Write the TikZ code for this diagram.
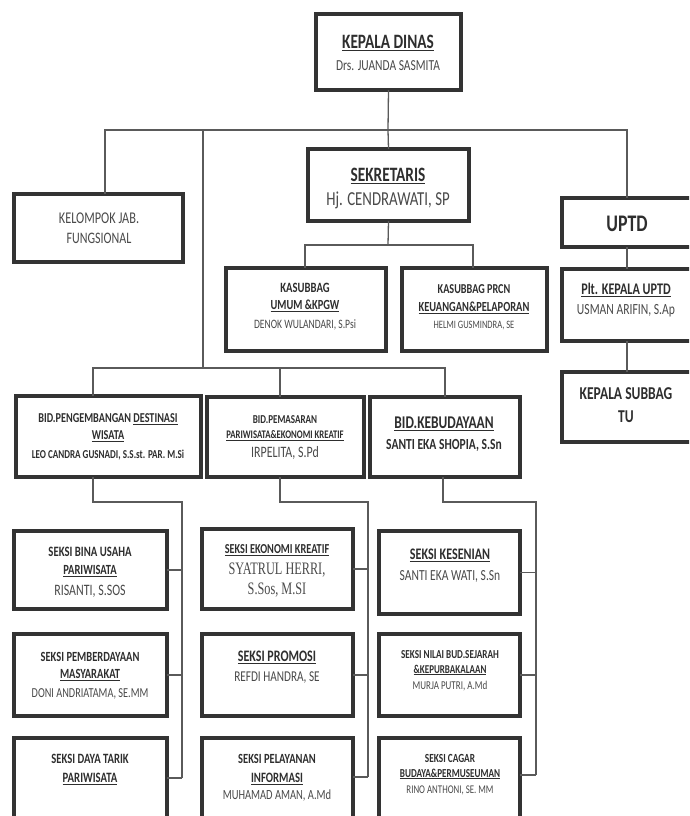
\documentclass[tikz,border=0pt]{standalone}
\usepackage{fontspec}
\setmainfont{Carlito}[FakeStretch=0.75]
\newfontfamily\serifcond{Liberation Serif}[FakeStretch=0.70]
\definecolor{tdark}{HTML}{2E2E2E}
\definecolor{treg}{HTML}{4A4A4A}
\definecolor{boxc}{HTML}{333333}
\definecolor{linec}{HTML}{5A5A5A}
\newcommand\bx[5]{\node[box, minimum width={(#4-#2)*1pt}, minimum height={(#5-#3)*1pt}] (#1) at ({(#2+#4)/2},{(#3+#5)/2}) {};}
\begin{document}
\begin{tikzpicture}[x=1pt,y=-1pt,
  box/.style={draw=boxc, line width=4pt, fill=white, inner sep=0pt, outer sep=0pt},
  ln/.style={draw=linec, line width=1.3pt},
  tb/.style={inner sep=0pt, text=tdark, font=\bfseries\fontsize{#1}{#1}\selectfont},
  tr/.style={inner sep=0pt, text=treg, font=\fontsize{#1}{#1}\selectfont},
  ts/.style={inner sep=0pt, text=treg, font=\serifcond\fontsize{#1}{#1}\selectfont}]
\useasboundingbox (0,0) rectangle (689,816);
\fill[white] (0,0) rectangle (689,816);
\begin{scope}
\clip (0,0) rectangle (689,816);
% boxes
\bx{kd}{316}{14}{461}{90}
\bx{sek}{308}{149}{469}{221}
\bx{kel}{14}{194}{183}{262}
\bx{uptd}{562}{198}{692}{247}
\bx{ksu}{226}{268}{386}{351}
\bx{kpr}{402}{268}{547}{351}
\bx{plt}{562}{269}{692}{341}
\bx{kst}{562}{372}{692}{442}
\bx{bidp}{16}{396}{201}{477}
\bx{bidm}{207}{397}{364}{477}
\bx{bidk}{370}{397}{520}{477}
\bx{s11}{14}{531}{167}{609}
\bx{s12}{14}{634}{167}{716}
\bx{s13}{14}{738}{167}{830}
\bx{s21}{202}{529}{353}{609}
\bx{s22}{202}{634}{353}{716}
\bx{s23}{202}{738}{353}{830}
\bx{s31}{379}{531}{520}{614}
\bx{s32}{379}{634}{520}{716}
\bx{s33}{379}{738}{520}{830}
% connectors
\coordinate (top) at (388,130);
\coordinate (hl) at (105,130);
\draw[ln] (kd.south) -- (top);
\draw[ln] (hl |- kel.north) -- (hl) -- (top) -| (uptd.north);
\draw[ln] (top) -- (sek.north);
\coordinate (vb1) at (203,130);
\coordinate (vb2) at (203,368);
\draw[ln] (vb1) -- (vb2);
\coordinate (bl) at (93,368);
\coordinate (bm) at (280,368);
\coordinate (br) at (445,368);
\draw[ln] (bl |- bidp.north) -- (bl) -- (br) -- (br |- bidk.north);
\draw[ln] (bm) -- (bm |- bidm.north);
\coordinate (sm) at (388,245);
\coordinate (sl) at (305,245);
\coordinate (sr) at (473,245);
\draw[ln] (sek.south) -- (sm);
\draw[ln] (sl |- ksu.north) -- (sl) -- (sr) -- (sr |- kpr.north);
\draw[ln] (uptd.south) -- (plt.north);
\draw[ln] (plt.south) -- (kst.north);
% column 1
\coordinate (c1a) at (93,502);
\coordinate (c1b) at (182,502);
\coordinate (c1c) at (182,778);
\draw[ln] (c1a |- bidp.south) -- (c1a) -- (c1b) -- (c1c);
\draw[ln] (s11.east) -- (s11.east -| c1b);
\draw[ln] (s12.east) -- (s12.east -| c1b);
\draw[ln] (c1c -| s13.east) -- (c1c);
% column 2
\coordinate (c2a) at (280,502);
\coordinate (c2b) at (368,502);
\coordinate (c2c) at (368,777);
\draw[ln] (c2a |- bidm.south) -- (c2a) -- (c2b) -- (c2c);
\draw[ln] (s21.east) -- (s21.east -| c2b);
\draw[ln] (s22.east) -- (s22.east -| c2b);
\draw[ln] (c2c -| s23.east) -- (c2c);
% column 3
\coordinate (c3a) at (443,502);
\coordinate (c3b) at (536,502);
\coordinate (c3c) at (536,775);
\draw[ln] (c3a |- bidk.south) -- (c3a) -- (c3b) -- (c3c);
\draw[ln] (s31.east) -- (s31.east -| c3b);
\draw[ln] (s32.east) -- (s32.east -| c3b);
\draw[ln] (c3c -| s33.east) -- (c3c);
% texts
\node[tb=20.4] (kdA) at (388,43) {\underline{KEPALA DINAS}};
\node[tr=15.3] (kdB) at (388,66) {Drs. JUANDA SASMITA};
\node[tb=20.4] (sekA) at (388,176) {\underline{SEKRETARIS}};
\node[tr=19.8] (sekB) at (388,200) {Hj. CENDRAWATI, SP};
\node[tr=16.4] (kelA) at (99,218) {KELOMPOK JAB.};
\node[tr=16] (kelB) at (99,238) {FUNGSIONAL};
\node[tb=23.8] (uptdA) at (627,224) {UPTD};
\node[tb=14.2] (ksuA) at (305,288) {KASUBBAG};
\node[tb=13.9] (ksuB) at (305,306) {\underline{UMUM \&KPGW}};
\node[tr=12.8] (ksuC) at (305,325) {DENOK WULANDARI, S.Psi};
\node[tb=13.6] (kprA) at (474,289) {KASUBBAG PRCN};
\node[tb=13.9] (kprB) at (474,308) {\underline{KEUANGAN\&PELAPORAN}};
\node[tr=11.3] (kprC) at (474,326) {HELMI GUSMINDRA, SE};
\node[tb=16.2] (pltA) at (626,290) {\underline{Plt. KEPALA UPTD}};
\node[tr=15.5] (pltB) at (626,311) {USMAN ARIFIN, S.Ap};
\node[tb=18.1] (kstA) at (626,394) {KEPALA SUBBAG};
\node[tb=18.1] (kstB) at (626,417) {TU};
\node[tb=13.6] (bidpA) at (108,419) {BID.PENGEMBANGAN \underline{DESTINASI}};
\node[tb=13.6] (bidpB) at (108,436) {\underline{WISATA}};
\node[tb=12.1] (bidpC) at (108,455) {LEO CANDRA GUSNADI, S.S.st. PAR. M.Si};
\node[tb=12.1] (bidmA) at (285,420) {BID.PEMASARAN};
\node[tb=11.6] (bidmB) at (285,436) {\underline{PARIWISATA\&EKONOMI KREATIF}};
\node[tr=15.9] (bidmC) at (285,453) {IRPELITA, S.Pd};
\node[tb=17.9] (bidkA) at (444,424) {\underline{BID.KEBUDAYAAN}};
\node[tb=15.4] (bidkB) at (444,445) {SANTI EKA SHOPIA, S.Sn};
\node[tb=14.3] (s11A) at (90,552) {SEKSI BINA USAHA};
\node[tb=14] (s11B) at (90,571) {\underline{PARIWISATA}};
\node[tr=15.9] (s11C) at (90,591) {RISANTI, S.SOS};
\node[tb=14] (s12A) at (90,657) {SEKSI PEMBERDAYAAN};
\node[tb=14] (s12B) at (90,675) {\underline{MASYARAKAT}};
\node[tr=13.7] (s12C) at (90,694) {DONI ANDRIATAMA, SE.MM};
\node[tb=14.2] (s13A) at (90,759) {SEKSI DAYA TARIK};
\node[tb=14.3] (s13B) at (90,779) {\underline{PARIWISATA}};
\node[tb=13.7] (s21A) at (277,550) {\underline{SEKSI EKONOMI KREATIF}};
\node[ts=17.5] (s21B) at (277,570) {SYATRUL HERRI,};
\node[ts=17.5] (s21C) at (277,590) {S.Sos, M.SI};
\node[tb=16] (s22A) at (277,657) {\underline{SEKSI PROMOSI}};
\node[tr=15] (s22B) at (277,678) {REFDI HANDRA, SE};
\node[tb=14] (s23A) at (277,759) {SEKSI PELAYANAN};
\node[tb=14.3] (s23B) at (277,779) {\underline{INFORMASI}};
\node[tr=14] (s23C) at (277,796) {MUHAMAD AMAN, A.Md};
\node[tb=16.1] (s31A) at (450,555) {\underline{SEKSI KESENIAN}};
\node[tr=15.4] (s31B) at (450,576) {SANTI EKA WATI, S.Sn};
\node[tb=12.2] (s32A) at (450,655) {SEKSI NILAI BUD.SEJARAH};
\node[tb=12] (s32B) at (450,670) {\underline{\&KEPURBAKALAAN}};
\node[tr=12] (s32C) at (450,686) {MURJA PUTRI, A.Md};
\node[tb=12.4] (s33A) at (450,758) {SEKSI CAGAR};
\node[tb=12.2] (s33B) at (450,774) {\underline{BUDAYA\&PERMUSEUMAN}};
\node[tr=11.8] (s33C) at (450,790) {RINO ANTHONI, SE. MM};
\end{scope}
\end{tikzpicture}
\end{document}
